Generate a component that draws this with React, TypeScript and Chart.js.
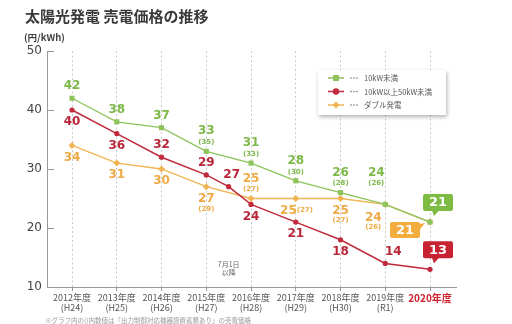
import React, { useEffect, useRef } from "react";
import { Chart, registerables } from "chart.js";

Chart.register(...registerables);

// ---- data ----
const titleText = "太陽光発電 売電価格の推移";
const unitText = "(円/kWh)";
const footnote = "※グラフ内の()内数値は「出力制御対応機器設置義務あり」の売電価格";
const noteLines = ["7月1日", "以降"];
const noteX = 3.5;

const yearLabels = ["2012年度", "2013年度", "2014年度", "2015年度", "2016年度", "2017年度", "2018年度", "2019年度", "2020年度"];
const eraLabels = ["(H24)", "(H25)", "(H26)", "(H27)", "(H28)", "(H29)", "(H30)", "(R1)", ""];
const categoryX = [0, 1, 2, 3, 4, 5, 6, 7, 8];

const greenValues = [42, 38, 37, 33, 31, 28, 26, 24, 21];
const greenSub = [null, null, null, 35, 33, 30, 28, 26, null];

const redX = [0, 1, 2, 3, 3.5, 4, 5, 6, 7, 8];
const redValues = [40, 36, 32, 29, 27, 24, 21, 18, 14, 13];

const orangeValues = [34, 31, 30, 27, 25, 25, 25, 24, 21];
const orangeSub = [null, null, null, 29, 27, 27, 27, 26, null];

const yTicks = [10, 20, 30, 40, 50];
const seriesNames = ["10kW未満", "10kW以上50kW未満", "ダブル発電"];

// ---- styles ----
const CJK = "'Noto Sans CJK JP', 'Noto Sans', sans-serif";
const NUM = "'DejaVu Sans', sans-serif";
const GREEN = "#8dc35a";
const GREEN_T = "#7db848";
const GREEN_B = "#7dbb42";
const RED = "#c02a3c";
const RED_T = "#b8263a";
const RED_B = "#c62232";
const ORANGE = "#f1b452";
const ORANGE_T = "#eeaa45";
const ORANGE_B = "#f2ad3e";
const AXIS = "#9a9a9a";

type Place = { p: "a" | "b" | "i" | "n" | "badgeUp" | "badgeLeft"; dx?: number; dy?: number };

const greenPlace: Place[] = [
  { p: "a" }, { p: "a" }, { p: "a" }, { p: "a" }, { p: "a" }, { p: "a" }, { p: "a" },
  { p: "a", dx: -9, dy: -12 }, { p: "badgeUp" },
];
const redPlace: Place[] = [
  { p: "b" }, { p: "b" }, { p: "a" }, { p: "a" }, { p: "a", dx: 3 }, { p: "b" }, { p: "b" }, { p: "b" },
  { p: "a", dx: 8 }, { p: "badgeUp" },
];
const orangePlace: Place[] = [
  { p: "b" }, { p: "b" }, { p: "b" }, { p: "b" }, { p: "a" }, { p: "i" }, { p: "b" },
  { p: "b", dx: -12, dy: 1 }, { p: "badgeLeft" },
];

const seriesInfo = [
  { values: greenValues, subs: greenSub, place: greenPlace, text: GREEN_T, badge: GREEN_B },
  { values: redValues, subs: [] as (number | null)[], place: redPlace, text: RED_T, badge: RED_B },
  { values: orangeValues, subs: orangeSub, place: orangePlace, text: ORANGE_T, badge: ORANGE_B },
];

function roundRect(ctx: CanvasRenderingContext2D, x: number, y: number, w: number, h: number, r: number) {
  ctx.beginPath();
  ctx.moveTo(x + r, y);
  ctx.lineTo(x + w - r, y);
  ctx.quadraticCurveTo(x + w, y, x + w, y + r);
  ctx.lineTo(x + w, y + h - r);
  ctx.quadraticCurveTo(x + w, y + h, x + w - r, y + h);
  ctx.lineTo(x + r, y + h);
  ctx.quadraticCurveTo(x, y + h, x, y + h - r);
  ctx.lineTo(x, y + r);
  ctx.quadraticCurveTo(x, y, x + r, y);
  ctx.closePath();
}

function drawBadge(ctx: CanvasRenderingContext2D, bx: number, by: number, w: number, h: number, color: string, text: string, tail: number[][]) {
  ctx.fillStyle = color;
  roundRect(ctx, bx, by, w, h, 2);
  ctx.fill();
  ctx.beginPath();
  ctx.moveTo(tail[0][0], tail[0][1]);
  ctx.lineTo(tail[1][0], tail[1][1]);
  ctx.lineTo(tail[2][0], tail[2][1]);
  ctx.closePath();
  ctx.fill();
  ctx.fillStyle = "#fff";
  ctx.font = `bold 13px ${NUM}`;
  ctx.textAlign = "center";
  ctx.textBaseline = "middle";
  ctx.fillText(text, bx + w / 2, by + h / 2 + 0.5);
}

const overlayPlugin = {
  id: "overlay",
  afterDraw(chart: any) {
    const ctx: CanvasRenderingContext2D = chart.ctx;
    const area = chart.chartArea;
    const ys = chart.scales.y;
    const xs = chart.scales.x;
    ctx.save();

    // inner y tick marks
    ctx.strokeStyle = AXIS;
    ctx.lineWidth = 1;
    yTicks.forEach((v) => {
      const py = Math.round(ys.getPixelForValue(v)) + 0.5;
      ctx.beginPath();
      ctx.moveTo(area.left, py);
      ctx.lineTo(area.left + 7, py);
      ctx.stroke();
    });

    // title and unit
    ctx.fillStyle = "#3a3a3a";
    ctx.textAlign = "left";
    ctx.textBaseline = "middle";
    ctx.font = `bold 15px ${CJK}`;
    ctx.fillText(titleText, 25, 16);
    ctx.fillStyle = "#444";
    ctx.font = `bold 9.5px ${CJK}`;
    ctx.fillText(unitText, 24, 37);

    // note
    ctx.fillStyle = "#666";
    ctx.font = `7px ${CJK}`;
    ctx.textAlign = "center";
    const nx = xs.getPixelForValue(noteX);
    ctx.fillText(noteLines[0], nx, 264);
    ctx.fillText(noteLines[1], nx, 272);

    // footnote
    ctx.fillStyle = "#999";
    ctx.font = `6.5px ${CJK}`;
    ctx.textAlign = "left";
    ctx.fillText(footnote, 45, 321);

    // data labels
    seriesInfo.forEach((s, di) => {
      const meta = chart.getDatasetMeta(di);
      meta.data.forEach((pt: any, i: number) => {
        const x = pt.x;
        const y = pt.y;
        const pl = s.place[i];
        const main = String(s.values[i]);
        const sub = s.subs[i] != null ? `(${s.subs[i]})` : null;
        const dx = pl.dx || 0;
        const dy = pl.dy || 0;
        ctx.fillStyle = s.text;
        ctx.textBaseline = "middle";
        const mainFont = `bold 12px ${NUM}`;
        const subFont = `bold 7px ${NUM}`;
        if (pl.p === "a") {
          ctx.textAlign = "center";
          if (sub) {
            ctx.font = mainFont;
            ctx.fillText(main, x + dx, y - 20 + dy);
            ctx.font = subFont;
            ctx.fillText(sub, x + dx, y - 9 + dy);
          } else {
            ctx.font = mainFont;
            ctx.fillText(main, x + dx, y - 12 + dy);
          }
        } else if (pl.p === "b") {
          ctx.textAlign = "center";
          ctx.font = mainFont;
          ctx.fillText(main, x + dx, y + 12 + dy);
          if (sub) {
            ctx.font = subFont;
            ctx.fillText(sub, x + dx, y + 22 + dy);
          }
        } else if (pl.p === "i") {
          ctx.font = mainFont;
          ctx.textAlign = "right";
          ctx.fillText(main, x + 1 + dx, y + 12 + dy);
          if (sub) {
            ctx.font = subFont;
            ctx.textAlign = "left";
            ctx.fillText(sub, x + 1 + dx, y + 12 + dy);
          }
        } else if (pl.p === "badgeUp") {
          drawBadge(ctx, x - 7, y - 28, 30, 17, s.badge, main, [
            [x + 2, y - 11.5],
            [x + 9, y - 11.5],
            [x + 4, y - 6],
          ]);
        } else if (pl.p === "badgeLeft") {
          drawBadge(ctx, x - 40, y, 30, 16, s.badge, main, [
            [x - 10.5, y + 2],
            [x - 10.5, y + 8],
            [x - 5, y + 1],
          ]);
        }
      });
    });

    // legend box
    const lx = 318, ly = 70, lw = 128, lh = 45;
    ctx.save();
    ctx.shadowColor = "rgba(0,0,0,0.3)";
    ctx.shadowBlur = 4;
    ctx.shadowOffsetX = 1;
    ctx.shadowOffsetY = 1.5;
    ctx.fillStyle = "#fff";
    ctx.fillRect(lx, ly, lw, lh);
    ctx.restore();
    const rows = [78, 91.5, 105];
    const colors = [GREEN, RED, ORANGE];
    rows.forEach((ry, k) => {
      ctx.strokeStyle = colors[k];
      ctx.lineWidth = 1.5;
      ctx.beginPath();
      ctx.moveTo(328, ry);
      ctx.lineTo(344, ry);
      ctx.stroke();
      ctx.fillStyle = colors[k];
      const mx = 336;
      if (k === 0) {
        ctx.fillRect(mx - 3, ry - 3, 6, 6);
      } else if (k === 1) {
        ctx.beginPath();
        ctx.arc(mx, ry, 3.2, 0, Math.PI * 2);
        ctx.fill();
      } else {
        ctx.beginPath();
        ctx.moveTo(mx, ry - 3.5);
        ctx.lineTo(mx + 3.5, ry);
        ctx.lineTo(mx, ry + 3.5);
        ctx.lineTo(mx - 3.5, ry);
        ctx.closePath();
        ctx.fill();
      }
      ctx.fillStyle = "#666";
      [351, 354, 357].forEach((dxp) => {
        ctx.beginPath();
        ctx.arc(dxp, ry, 0.75, 0, Math.PI * 2);
        ctx.fill();
      });
      ctx.fillStyle = "#555";
      ctx.font = `7.5px ${CJK}`;
      ctx.textAlign = "left";
      ctx.textBaseline = "middle";
      ctx.fillText(seriesNames[k], 364, ry + 0.5);
    });

    ctx.restore();
  },
};

export default function App() {
  const ref = useRef<HTMLCanvasElement>(null);
  useEffect(() => {
    const canvas = ref.current;
    if (!canvas) return;
    const chart = new Chart(canvas, {
      type: "line",
      data: {
        datasets: [
          {
            label: seriesNames[0],
            data: categoryX.map((x, i) => ({ x, y: greenValues[i] })),
            borderColor: GREEN,
            backgroundColor: GREEN,
            borderWidth: 1.3,
            pointStyle: "rect",
            pointRadius: 3.6,
            pointBorderWidth: 0,
            pointBackgroundColor: GREEN,
            tension: 0,
          },
          {
            label: seriesNames[1],
            data: redX.map((x, i) => ({ x, y: redValues[i] })),
            borderColor: RED,
            backgroundColor: RED,
            borderWidth: 1.5,
            pointStyle: "circle",
            pointRadius: 2.6,
            pointBorderWidth: 0,
            pointBackgroundColor: RED,
            tension: 0,
          },
          {
            label: seriesNames[2],
            data: categoryX.map((x, i) => ({ x, y: orangeValues[i] })),
            borderColor: ORANGE,
            backgroundColor: ORANGE,
            borderWidth: 1.3,
            pointStyle: "rectRot",
            pointRadius: 3.5,
            pointBorderWidth: 0,
            pointBackgroundColor: ORANGE,
            tension: 0,
          },
        ],
      },
      options: {
        animation: false,
        responsive: false,
        events: [],
        layout: { padding: { top: 51, right: 56, left: 0, bottom: 0 } },
        plugins: { legend: { display: false }, tooltip: { enabled: false } },
        scales: {
          x: {
            type: "linear",
            min: -0.559,
            max: 8.581,
            afterBuildTicks: (axis: any) => {
              axis.ticks = categoryX.map((v) => ({ value: v }));
            },
            afterFit: (axis: any) => {
              axis.height = 37;
            },
            grid: {
              display: true,
              drawOnChartArea: true,
              color: "#c9c9c9",
              lineWidth: 1,
              drawTicks: true,
              tickLength: 4,
              tickColor: AXIS,
              tickBorderDash: [],
            },
            border: { display: true, color: AXIS, width: 1, dash: [2, 2.5] },
            ticks: {
              autoSkip: false,
              maxRotation: 0,
              padding: 1,
              callback: (_v: any, i: number) => (eraLabels[i] ? [yearLabels[i], eraLabels[i]] : [yearLabels[i]]),
              font: (c: any) => ({
                family: CJK,
                size: c.index === 8 ? 10 : 9,
                weight: c.index === 8 ? "bold" : "normal",
                lineHeight: 1.15,
              }),
              color: (c: any) => (c.index === 8 ? "#d0202e" : "#555"),
            },
          },
          y: {
            type: "linear",
            min: 10,
            max: 50,
            afterFit: (axis: any) => {
              axis.width = 47;
            },
            grid: { display: false, drawTicks: false, drawOnChartArea: false },
            border: { display: true, color: AXIS, width: 1 },
            ticks: {
              stepSize: 10,
              padding: 5,
              font: { family: NUM, size: 12 },
              color: "#444",
            },
          },
        },
      } as any,
      plugins: [overlayPlugin],
    });
    return () => chart.destroy();
  }, []);
  return (
    <div style={{ position: "absolute", left: 0, top: 0, width: 512, height: 324, background: "#fff" }}>
      <canvas ref={ref} width={512} height={324} style={{ width: 512, height: 324, display: "block" }} />
    </div>
  );
}
